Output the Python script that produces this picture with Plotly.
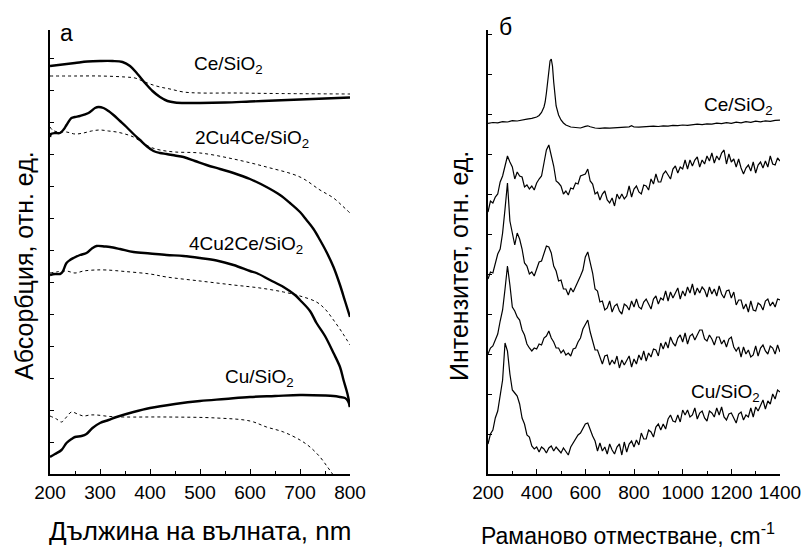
import plotly.graph_objects as go

# ---------------- Panel а: UV-Vis absorption (arb. units) ----------------
ce_solid_x = [200,225,250,275,300,325,345,360,375,390,405,420,435,450,475,500,550,600,650,700,750,800]
ce_solid_y = [408,409.5,411,412.5,413,413,412,408,400,391,383,377,373,371.5,371,371,371.5,372.5,373.5,374.5,375.5,376.5]
ce_dot_x = [200,250,300,350,370,385,400,420,440,467,500,567,650,800]
ce_dot_y = [398,398,398,397,396,393,390,387,385,382,381,381,380.5,380]

c24_solid_x = [200,202,210,220,228,233,243,250,260,277,290,297,307,317,327,340,353,367,380,393,407,420,433,450,467,490,513,540,567,600,633,660,680,700,713,727,740,753,767,780,790,800]
c24_solid_y = [337,340,341,341,345,349,356,357,358,361,366,367,366,363,359,353,347,340,334,328,323,321,320,318.5,317,313,309,305,301,295,287,279,271,262,254,245,234,222,207,189,173,157]
c24_dot_x = [200,205,215,233,250,267,283,300,317,333,350,367,383,400,420,450,500,567,633,700,740,767,785,800]
c24_dot_y = [347,344,342,342,340,341,343,344,343,342,340,337,332,327,324,322,321,315,307,297,284,276,268,261]

c42_solid_x = [200,210,220,225,233,240,247,260,273,285,293,310,320,340,367,400,433,467,500,533,567,600,613,640,667,690,700,720,733,750,767,780,787,795,800]
c42_solid_y = [199,200,200,202,211,214,216,219,221,226,228,227.5,227,225,222,220.5,219,218,216,213.5,209,203,201,194,187,179,174,163,151,138,121,107,94,80,67]
c42_dot_x = [200,213,233,250,267,290,313,350,400,433,500,567,620,667,700,733,750,767,785,800]
c42_dot_y = [201,202,203,201,203,204,204,202.5,200,197,193,189,186,182,178,172,165,154,141,129]

cu_solid_x = [200,210,223,233,243,250,263,273,285,300,317,333,367,400,450,500,550,600,650,700,750,767,780,790,796,800]
cu_solid_y = [17,20,24,31,35,37,38,40,46,51,54,57,62,66,70,73,75,77,78,79,78.5,78,77,76,73,67]
cu_dot_x = [200,213,223,233,243,255,267,280,293,320,350,433,533,600,633,667,700,720,740,755,765,775]
cu_dot_y = [58,55,52,57,62,60,58,59,59,57.5,57,57,56,53,47,42,34,27,17,7,0,-8]

# ---------------- Panel б: Raman spectra (arb. units), 200..1400 cm-1 step 10 ----------------
raman_x = list(range(200, 1401, 10))

ce_r_x = [200,220,240,260,280,300,320,340,360,380,400,410,420,430,435,440,445,450,455,460,465,470,475,480,490,500,510,520,540,560,580,600,610,620,640,660,680,700,720,740,760,780,790,800,820,840,860,880,900,920,940,960,980,1000,1020,1040,1060,1080,1100,1120,1140,1160,1180,1200,1220,1240,1260,1280,1300,1320,1340,1360,1380,1400]
ce_r_y = [350.7,351.5,351.2,352.3,352.0,353.4,353.0,354.2,354.8,355.6,357.0,358.5,361.5,367,372,381,393,405,413,415,408,392,378,368,359,354,351,349,347,346.3,346,347.6,348.2,347.2,346,345.7,346.2,345.8,346.1,346.5,346.3,347.2,348.3,347.0,346.8,347.3,347.1,347.8,347.5,348.2,347.9,348.6,348.3,349.0,348.6,349.4,349.8,349.3,350.2,349.9,350.8,350.3,351.3,350.6,351.8,351.2,352.3,351.7,352.8,352.2,353.2,352.6,353.6,353.8]

c24_r_y = [262,273,271,277,280,292,298,309,318,312,
           307,295,302,298,297,287,289,285,288,284,
           291,295,298,311,324,329,318,308,293,291,
           288,280,283,279,286,285,291,290,298,299,
           300,305,293,290,280,282,274,280,283,274,
           271,276,268,280,275,280,275,278,288,277,
           285,288,282,280,289,288,284,295,290,300,
           292,292,300,303,299,295,305,308,301,307,
           305,314,305,314,308,314,317,307,314,310,
           318,313,321,311,318,314,321,324,310,320,
           312,315,307,315,306,300,306,309,303,312,
           301,309,312,306,313,307,318,310,309,316,
           313]

c33_r_y = [195,202,201,211,220,225,241,265,291,253,
           241,229,241,235,225,211,208,200,202,198,
           205,212,213,221,228,227,221,208,203,193,
           194,185,185,179,186,182,187,192,198,204,
           217,222,211,201,185,183,172,173,164,166,
           173,162,168,170,163,160,170,168,164,173,
           167,175,167,165,172,175,170,165,175,178,
           170,176,174,183,173,182,176,182,186,175,
           183,178,187,181,190,179,186,181,187,184,
           177,187,180,185,178,188,180,176,183,184,
           176,182,169,174,174,165,170,162,173,164,
           163,171,169,164,173,175,168,172,167,175,
           174]

c42_r_y = [120,126,128,134,140,153,164,185,208,189,
           167,163,157,154,144,139,130,126,123,126,
           125,130,129,136,138,143,136,132,126,126,
           121,124,119,121,118,125,126,132,136,145,
           150,154,142,134,124,124,117,110,118,119,
           109,114,110,118,106,114,109,114,118,107,
           115,110,119,114,123,113,121,117,125,124,
           118,131,125,132,126,137,131,128,136,139,
           132,141,130,138,140,134,140,144,144,135,
           133,139,135,129,137,137,130,134,127,135,
           137,127,123,127,117,127,120,124,117,119,
           128,118,126,129,123,120,128,126,120,129,
           122]

cu_r_y = [30,40,44,56,63,77,94,131,123,100,
          84,81,78,70,56,50,39,37,28,25,
          27,22,27,25,21,26,28,23,27,24,
          21,26,23,19,27,31,34,39,41,46,
          50,51,44,38,33,23,31,23,27,20,
          30,24,20,27,30,19,32,22,30,33,
          27,34,29,41,35,35,44,42,37,47,
          50,44,50,45,55,59,53,52,59,52,
          64,59,64,57,59,66,55,61,63,56,
          53,63,61,57,66,59,67,57,54,60,
          61,56,51,60,62,54,59,57,66,57,
          67,63,69,74,65,73,70,80,75,84,
          82]

left_labels = [("Ce/SiO<sub>2</sub>", 556, 409), ("2Cu4Ce/SiO<sub>2</sub>", 604, 335),
               ("4Cu2Ce/SiO<sub>2</sub>", 592, 229), ("Cu/SiO<sub>2</sub>", 618, 96)]
right_labels = [("Ce/SiO<sub>2</sub>", 1380, 368), ("2Cu4Ce/SiO<sub>2</sub>", 1470, 327),
                ("3Cu3Ce/SiO<sub>2</sub>", 1474, 204), ("4Cu2Ce/SiO<sub>2</sub>", 1470, 140),
                ("Cu/SiO<sub>2</sub>", 1326, 81)]

W, H = 801, 551
FONT = "Arial, Liberation Sans, sans-serif"

def px(x):
    return x / W

def py(y):
    return 1 - y / H

fig = go.Figure()
solid = dict(color="black", width=2.4)
dotted = dict(color="black", width=1, dash="dot")
for xs, ys in [(ce_solid_x, ce_solid_y), (c24_solid_x, c24_solid_y),
               (c42_solid_x, c42_solid_y), (cu_solid_x, cu_solid_y)]:
    fig.add_trace(go.Scatter(x=xs, y=ys, mode="lines", line=solid, line_shape="spline",
                             xaxis="x", yaxis="y", showlegend=False))
for xs, ys in [(ce_dot_x, ce_dot_y), (c24_dot_x, c24_dot_y),
               (c42_dot_x, c42_dot_y), (cu_dot_x, cu_dot_y)]:
    fig.add_trace(go.Scatter(x=xs, y=ys, mode="lines", line=dotted, line_shape="spline",
                             xaxis="x", yaxis="y", showlegend=False))

fig.add_trace(go.Scatter(x=ce_r_x, y=ce_r_y, mode="lines", line=dict(color="black", width=1.2),
                         xaxis="x2", yaxis="y2", showlegend=False))
for ys in [c24_r_y, c33_r_y, c42_r_y, cu_r_y]:
    fig.add_trace(go.Scatter(x=raman_x, y=ys, mode="lines", line=dict(color="black", width=1.2),
                             xaxis="x2", yaxis="y2", showlegend=False))

ydom = [py(474), py(30)]
axis_common = dict(showline=True, linecolor="black", linewidth=1.5, showgrid=False,
                   zeroline=False, ticks="inside", tickcolor="black", tickwidth=1.2,
                   mirror=False, automargin=False, ticklabeloverflow="allow",
                   tickfont=dict(family=FONT, size=19, color="black"))

fig.update_layout(
    width=W, height=H, margin=dict(l=0, r=0, t=0, b=0, autoexpand=False),
    paper_bgcolor="white", plot_bgcolor="white",
    xaxis=dict(domain=[px(50), px(350)], range=[200, 800], tickvals=[200, 300, 400, 500, 600, 700, 800],
               ticklen=5, minor=dict(dtick=50, tick0=200, ticks="inside", ticklen=3, tickcolor="black"),
               anchor="y", **axis_common),
    yaxis=dict(domain=ydom, range=[0, 444], tick0=0, dtick=32, ticklen=4, showticklabels=False,
               anchor="x", **axis_common),
    xaxis2=dict(domain=[px(488), px(780)], range=[200, 1400], tickvals=[200, 400, 600, 800, 1000, 1200, 1400],
                ticklen=5, minor=dict(dtick=100, tick0=200, ticks="inside", ticklen=3, tickcolor="black"),
                anchor="y2", **axis_common),
    yaxis2=dict(domain=ydom, range=[0, 444], tick0=0, dtick=40, ticklen=4, showticklabels=False,
                anchor="x2", **axis_common),
)

ann = []
for t, x, y in left_labels:
    ann.append(dict(text=t, x=x, y=y, xref="x", yref="y", showarrow=False, xanchor="center",
                    yanchor="middle", font=dict(family=FONT, size=19, color="black")))
for t, x, y in right_labels:
    ann.append(dict(text=t, x=x, y=y, xref="x2", yref="y2", showarrow=False, xanchor="right",
                    yanchor="middle", font=dict(family=FONT, size=19, color="black")))

def f(s):
    return dict(family=FONT, size=s, color="black")

ann += [
    dict(text="Дължина на вълната, nm", x=px(200), y=py(531), xref="paper", yref="paper",
         showarrow=False, xanchor="center", yanchor="middle", font=f(26)),
    dict(text="Раманово отместване, cm<sup>-1</sup>", x=px(628), y=0, xref="paper", yref="paper",
         showarrow=False, xanchor="center", yanchor="bottom", font=f(23)),
    dict(text="Абсорбция, отн. ед.", x=px(24), y=py(266), xref="paper", yref="paper",
         showarrow=False, xanchor="center", yanchor="middle", textangle=-90, font=f(25)),
    dict(text="Интензитет, отн. ед.", x=px(459), y=py(266), xref="paper", yref="paper",
         showarrow=False, xanchor="center", yanchor="middle", textangle=-90, font=f(25)),
    dict(text="а", x=px(66), y=py(33), xref="paper", yref="paper",
         showarrow=False, xanchor="center", yanchor="middle", font=f(23)),
    dict(text="б", x=px(505), y=py(27), xref="paper", yref="paper",
         showarrow=False, xanchor="center", yanchor="middle", font=f(23)),
]
fig.update_layout(annotations=ann)

for name, arr in [("c24", c24_r_y), ("c33", c33_r_y), ("c42", c42_r_y), ("cu", cu_r_y)]:
    assert len(arr) == len(raman_x), (name, len(arr))

fig.write_html("out.html")
